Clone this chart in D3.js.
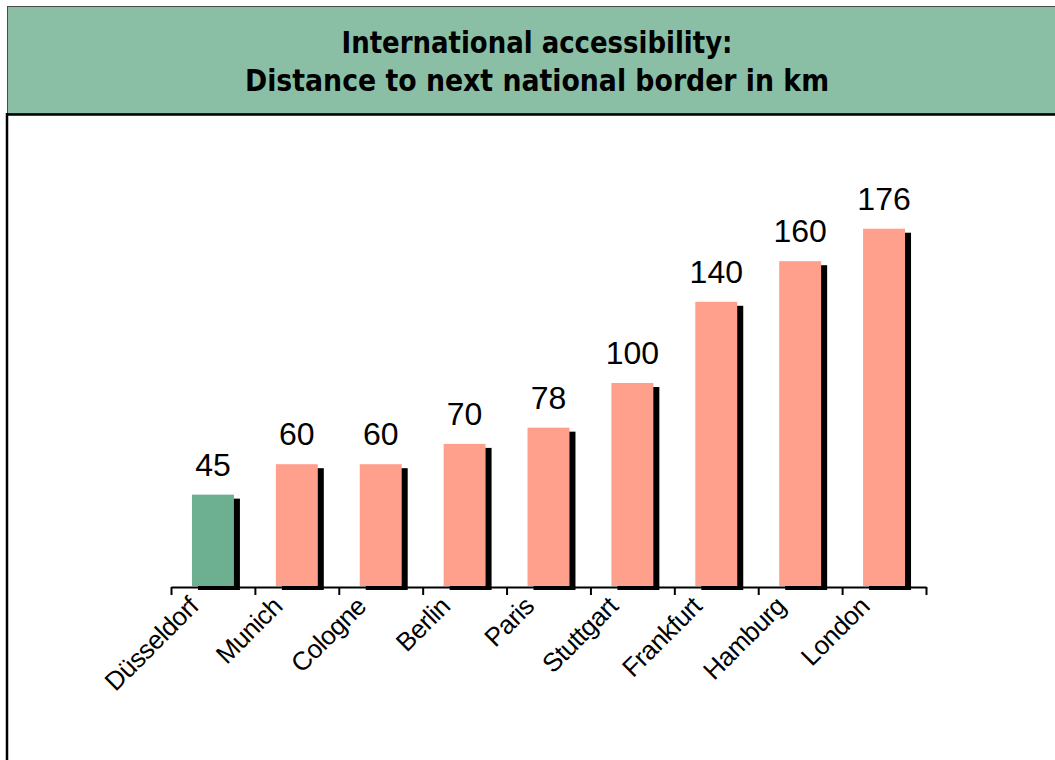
<!DOCTYPE html>
<html>
<head>
<meta charset="utf-8">
<script src="https://cdn.jsdelivr.net/npm/d3@7"></script>
<style>
  html, body { margin: 0; padding: 0; background: #ffffff; }
  svg { display: block; }
</style>
</head>
<body>
<svg id="chart" width="1055" height="760"></svg>
<script>
// Distance from each city to the nearest national border (km)
const cities = ["Düsseldorf", "Munich", "Cologne", "Berlin", "Paris", "Stuttgart", "Frankfurt", "Hamburg", "London"];
const distances = [45, 60, 60, 70, 78, 100, 140, 160, 176];
const highlighted = ["Düsseldorf"];
const titleLines = ["International accessibility:", "Distance to next national border in km"];

const svg = d3.select("#chart");
const W = 1055, H = 760;

// Title banner
svg.append("rect")
  .attr("x", 7.5).attr("y", 6.5)
  .attr("width", W + 10).attr("height", 107.5)
  .attr("fill", "#8abfa6")
  .attr("stroke", "#4a4a4a").attr("stroke-width", 1);
svg.append("line")
  .attr("x1", 7).attr("x2", W).attr("y1", 114.5).attr("y2", 114.5)
  .attr("stroke", "#000").attr("stroke-width", 2.5);
// Left frame of the plot panel
svg.append("line")
  .attr("x1", 7).attr("x2", 7).attr("y1", 113).attr("y2", H)
  .attr("stroke", "#000").attr("stroke-width", 2.5);

const titleFont = "'Liberation Sans Narrow', 'Arial Narrow', 'DejaVu Sans Condensed', sans-serif";
const titleWidths = [391, 584];
const titleBaselines = [53, 91];
titleLines.forEach((t, i) => {
  svg.append("text")
    .attr("x", 537).attr("y", titleBaselines[i])
    .attr("text-anchor", "middle")
    .attr("font-family", titleFont)
    .attr("font-weight", "bold")
    .attr("font-size", 31)
    .attr("textLength", titleWidths[i])
    .attr("lengthAdjust", "spacingAndGlyphs")
    .attr("fill", "#000")
    .text(t);
});

// Scales
const x0 = 171, x1 = 926, baseY = 586;
const x = d3.scaleBand()
  .domain(cities)
  .range([x0, x1])
  .paddingInner(0.5)
  .paddingOuter(0.25);
const y = d3.scaleLinear().domain([0, 200]).range([baseY, baseY - 406]);

const data = cities.map((c, i) => ({ city: c, value: distances[i] }));

// Drop shadows behind the bars
svg.append("g").selectAll("rect")
  .data(data).join("rect")
  .attr("x", d => x(d.city) + 6)
  .attr("y", d => y(d.value) + 4)
  .attr("width", x.bandwidth())
  .attr("height", d => baseY - y(d.value))
  .attr("fill", "#000");

// Bars
svg.append("g").selectAll("rect")
  .data(data).join("rect")
  .attr("x", d => x(d.city))
  .attr("y", d => y(d.value))
  .attr("width", x.bandwidth())
  .attr("height", d => baseY - y(d.value))
  .attr("fill", d => highlighted.includes(d.city) ? "#6daf91" : "#ffa08c");

// Category axis: ticks between categories
const tickScale = d3.scaleLinear().domain([0, cities.length]).range([x0, x1]);
const axis = svg.append("g")
  .attr("transform", `translate(0,${baseY + 1})`)
  .call(d3.axisBottom(tickScale)
    .tickValues(d3.range(0, cities.length + 1))
    .tickSize(8)
    .tickSizeOuter(0)
    .tickFormat(""));
axis.select(".domain").attr("stroke", "#000").attr("stroke-width", 2);
axis.selectAll(".tick line").attr("stroke", "#000").attr("stroke-width", 2);

// Value labels
svg.append("g").selectAll("text")
  .data(data).join("text")
  .attr("x", d => x(d.city) + x.bandwidth() / 2)
  .attr("y", d => y(d.value) - 19)
  .attr("text-anchor", "middle")
  .attr("font-family", "'Liberation Sans', Arial, sans-serif")
  .attr("font-size", 32)
  .attr("fill", "#000")
  .text(d => d.value);

// Rotated city labels
svg.append("g").selectAll("text")
  .data(data).join("text")
  .attr("transform", d => `translate(${x(d.city) + x.bandwidth() / 2 - 13},${baseY + 22}) rotate(-45)`)
  .attr("text-anchor", "end")
  .attr("font-family", "'Liberation Sans', Arial, sans-serif")
  .attr("font-size", 26)
  .attr("letter-spacing", -0.5)
  .attr("fill", "#000")
  .text(d => d.city);
</script>
</body>
</html>
